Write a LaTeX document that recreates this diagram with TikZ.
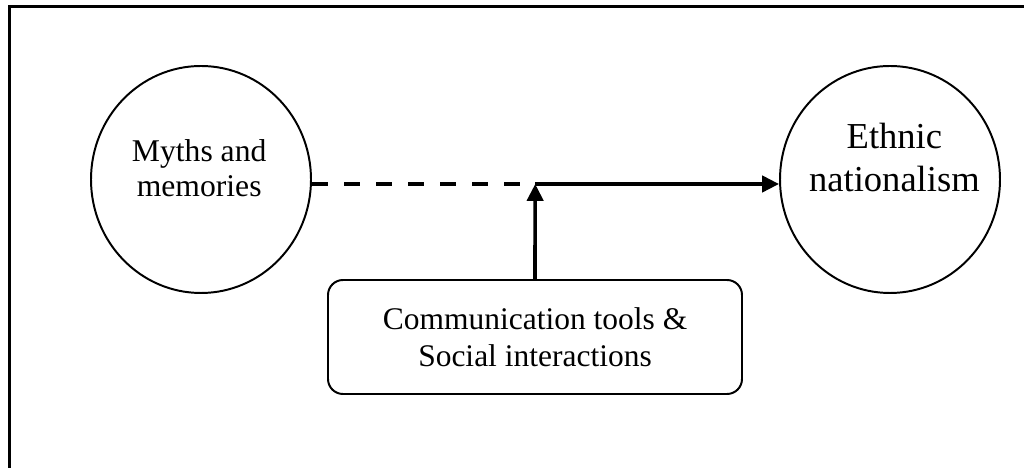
\documentclass[tikz,border=0pt]{standalone}
\usepackage{fontspec}
\setmainfont{Liberation Serif}
\usetikzlibrary{shapes.geometric,arrows.meta}

\begin{document}
\begin{tikzpicture}[
  bubble/.style={ellipse,draw=black,line width=1.4pt,minimum width=5.5cm,minimum height=5.675cm,inner sep=0pt},
  link/.style={line width=2.6pt},
  headed/.style={-{Triangle[length=12pt,width=11.5pt]}}
]
\useasboundingbox (0,0) rectangle (25.6,11.7);
\draw[line width=2.2pt] (0.23,-0.2) -- (0.23,11.54) -- (25.8,11.54);

\node[bubble] (myths) at (5.025,7.2125) {};
\node[bubble] (ethnic) at (22.25,7.2125) {};
\node[align=center,font=\fontsize{22.5}{25}\selectfont] (mythstext) at (4.98,7.495) {Myths and\\memories};
\node[align=center,font=\fontsize{26}{30.6}\selectfont] (ethnictext) at (22.36,7.7625) {Ethnic\\nationalism};
\node[draw=black,line width=1.4pt,rounded corners=0.375cm,minimum width=10.35cm,minimum height=2.85cm,align=center,font=\fontsize{22.4}{26}\selectfont] (comm) at (13.375,3.275) {Communication tools \&\\Social interactions};

\coordinate (junction) at (13.38,7.1);
\draw[link,dash pattern=on 11.4pt off 11.4pt] (myths.east |- junction) -- ([xshift=-0.31cm]junction);
\draw[link,headed] (comm.north) -- (junction);
\draw[link,headed] (junction) -- (junction -| ethnic.west);
\end{tikzpicture}
\end{document}
